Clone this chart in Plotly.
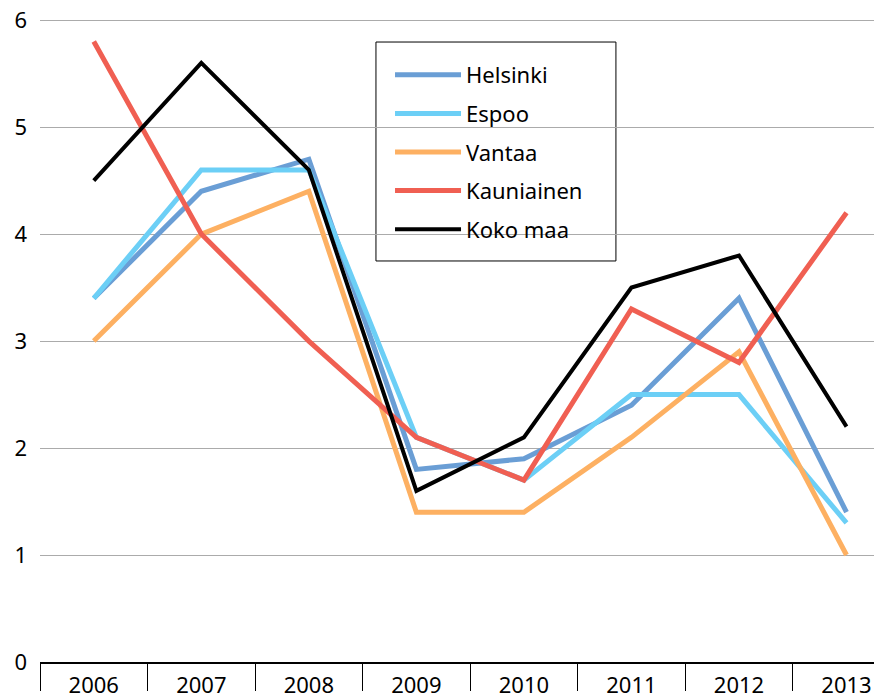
import plotly.graph_objects as go

years = ["2006", "2007", "2008", "2009", "2010", "2011", "2012", "2013"]
helsinki = [3.4, 4.4, 4.7, 1.8, 1.9, 2.4, 3.4, 1.4]
espoo = [3.4, 4.6, 4.6, 2.1, 1.7, 2.5, 2.5, 1.3]
vantaa = [3.0, 4.0, 4.4, 1.4, 1.4, 2.1, 2.9, 1.0]
kauniainen = [5.8, 4.0, 3.0, 2.1, 1.7, 3.3, 2.8, 4.2]
koko_maa = [4.5, 5.6, 4.6, 1.6, 2.1, 3.5, 3.8, 2.2]

series = [
    ("Helsinki", helsinki, "#6A9ED5", 5),
    ("Espoo", espoo, "#6CCFF6", 5),
    ("Vantaa", vantaa, "#FDB062", 5),
    ("Kauniainen", kauniainen, "#F05F52", 5),
    ("Koko maa", koko_maa, "#000000", 4),
]

font = "Noto Sans, Open Sans, sans-serif"
fig = go.Figure()
for i, (name, vals, color, w) in enumerate(series):
    fig.add_trace(go.Scatter(
        x=years, y=vals, name=name, mode="lines",
        line=dict(color=color, width=w),
        legendgroup=f"g{i}",
    ))

# invisible helper trace so the boundary-tick axis is drawn
fig.add_trace(go.Scatter(
    x=[0], y=[None], xaxis="x2", yaxis="y", mode="lines",
    showlegend=False, hoverinfo="skip",
))

# plot area: 644 px tall, y range 0..6.02 ; legend frame in paper coords
fig.add_shape(
    type="rect", xref="paper", yref="paper",
    x0=0.399, x1=0.684, y0=0.6227, y1=0.9627,
    line=dict(color="black", width=1), fillcolor="white",
    layer="between",
)

fig.update_layout(
    width=882, height=695,
    margin=dict(l=32, r=8, t=10, b=41, autoexpand=False),
    paper_bgcolor="white", plot_bgcolor="white",
    font=dict(family=font, size=22, color="black"),
    showlegend=True,
    legend=dict(
        x=0.4157, y=0.9441, xanchor="left", yanchor="top",
        borderwidth=0, bgcolor="rgba(0,0,0,0)",
        font=dict(size=22, color="black"),
        traceorder="grouped", tracegroupgap=7,
        itemwidth=66,
    ),
    xaxis=dict(
        type="category", range=[-0.5, 7.33],
        showline=True, linecolor="black", linewidth=2,
        ticks="", showgrid=False, zeroline=False,
        tickfont=dict(size=22, color="black"),
        ticklabelstandoff=3, ticklabeloverflow="allow",
        automargin=False, fixedrange=True,
    ),
    xaxis2=dict(
        overlaying="x", anchor="y", type="linear",
        range=[-0.5, 7.33], tick0=0.5, dtick=1,
        ticks="outside", ticklen=28, tickcolor="black", tickwidth=1,
        showticklabels=False, showgrid=False, zeroline=False, showline=False,
        side="bottom", automargin=False,
    ),
    yaxis=dict(
        range=[0, 6.02], dtick=1, tick0=0,
        showgrid=True, gridcolor="#ABABAB", gridwidth=1,
        zeroline=False, showline=False, ticks="",
        tickfont=dict(size=22, color="black"),
        ticklabelstandoff=12, ticklabeloverflow="allow",
        automargin=False,
    ),
)

fig.write_html("out.html")
